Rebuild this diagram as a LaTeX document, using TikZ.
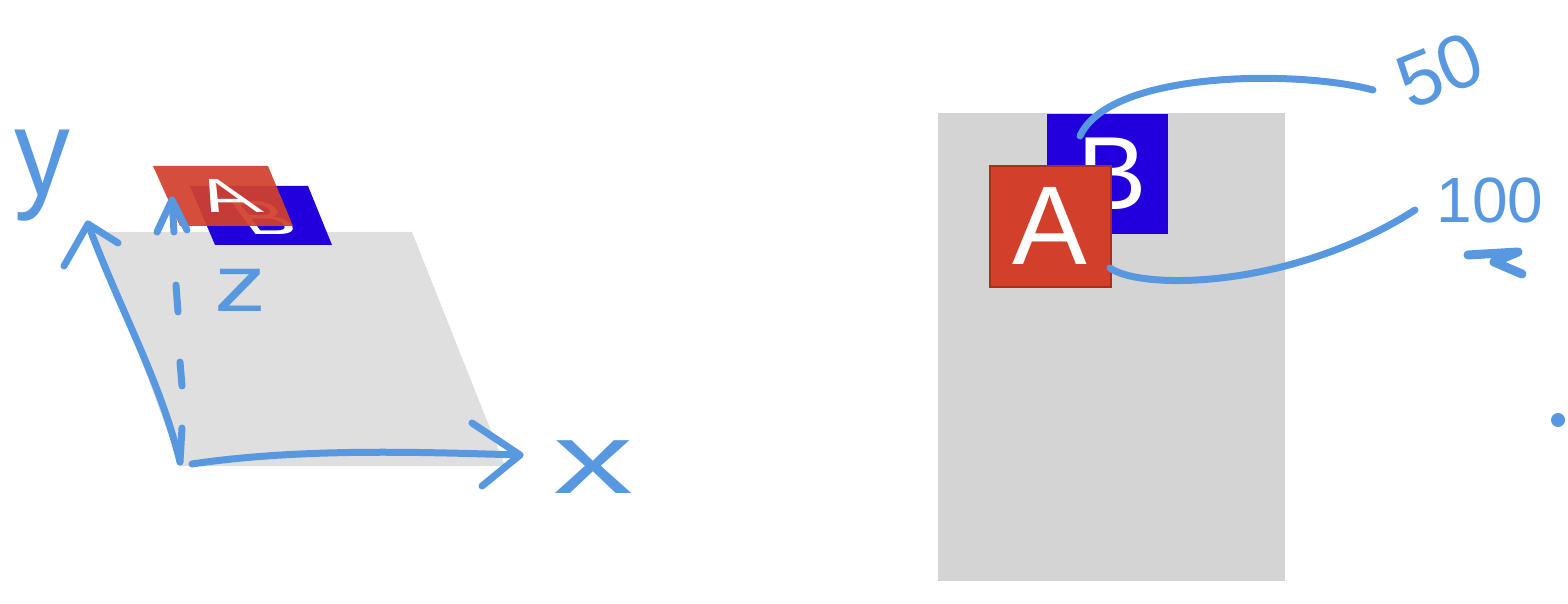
\documentclass[tikz,border=0pt]{standalone}
\usepackage{fontspec}
\setmainfont{Liberation Sans}
\definecolor{penblue}{RGB}{88,152,224}
\definecolor{sheetgray}{RGB}{222,223,222}
\definecolor{pagegray}{RGB}{212,212,212}
\definecolor{sqred}{RGB}{210,64,44}
\definecolor{sqredborder}{RGB}{170,45,30}
\definecolor{sqblue}{RGB}{34,0,222}
\begin{document}
\begin{tikzpicture}[x=0.5pt,y=-0.5pt,
  pen/.style={draw=penblue, line width=3.5pt, line cap=round, line join=round},
  hand/.style={text=penblue, inner sep=0pt},
  sqletter/.style={text=white, inner sep=0pt, font=\fontsize{52}{60}\selectfont}
]
\useasboundingbox (0,0) rectangle (1568,604);

% ---------- left: tilted sheet ----------
\fill[sheetgray] (95,232) -- (412,232) -- (505,466) -- (180,466) -- cycle;
\fill[sqblue] (190,186) -- (308,186) -- (332,245) -- (215,245) -- cycle;
\node[sqletter, font=\fontsize{40}{44}\selectfont, yscale=0.6, xslant=-0.45] (lB) at (264,218) {B};
\fill[sqred, opacity=0.93] (153,166) -- (268,166) -- (293,226) -- (180,226) -- cycle;
\node[sqletter, font=\fontsize{40}{44}\selectfont, yscale=0.6, xslant=-0.45] (lA) at (226,196) {A};

% axes
\coordinate (O) at (180,462);
\coordinate (ytip) at (88,224);
\coordinate (xtip) at (520,455);
\coordinate (ztip) at (172,200);
\draw[pen] (O) .. controls (160,380) and (120,310) .. (ytip);
\draw[pen] (64,266) -- (ytip) -- (118,243);
\draw[pen] (192,464) .. controls (300,448) and (420,452) .. (xtip);
\draw[pen] (472,423) -- (xtip) -- (482,486);
% dashed z axis
\draw[pen] (ztip) -- (174,232);
\draw[pen] (157,232) -- (ztip) -- (187,230);
\draw[pen] (176,285) -- (178,312);
\draw[pen] (180,362) -- (182,386);
\draw[pen] (182,428) -- (O);

\node[hand, font=\fontsize{62}{70}\selectfont, xscale=0.9] (ylab) at (42,176) {y};
\node[hand, font=\fontsize{50}{56}\selectfont, xscale=1.6] (xlab) at (593,467) {x};
\node[hand, font=\fontsize{40}{46}\selectfont, xscale=1.3] (zlab) at (240,290) {z};

% ---------- right: flat page ----------
\fill[pagegray] (938,113) rectangle (1285,581);
\fill[sqblue] (1047,114) rectangle (1168,234);
\node[sqletter] (B) at (1112,174) {B};
\filldraw[fill=sqred, draw=sqredborder, line width=1pt] (990,166) rectangle (1111,287);
\node[sqletter, font=\fontsize{56}{60}\selectfont] (A) at (1050,226) {A};

\coordinate (bstart) at (1080,136);
\coordinate (astart) at (1110,268);
\node[hand, font=\fontsize{38}{44}\selectfont, rotate=22] (z50) at (1440,70) {50};
\node[hand, font=\fontsize{32}{36}\selectfont] (z100) at (1490,200) {100};
\draw[pen] (bstart) .. controls (1110,70) and (1300,70) .. (1373,90);
\draw[pen] (astart) .. controls (1140,290) and (1290,290) .. (1415,210);
\draw[pen, line width=4.5pt] (1468,255) -- (1518,252) -- (1494,262) -- (1522,274);
\fill[penblue] (1558,420) circle (7);
\end{tikzpicture}
\end{document}
